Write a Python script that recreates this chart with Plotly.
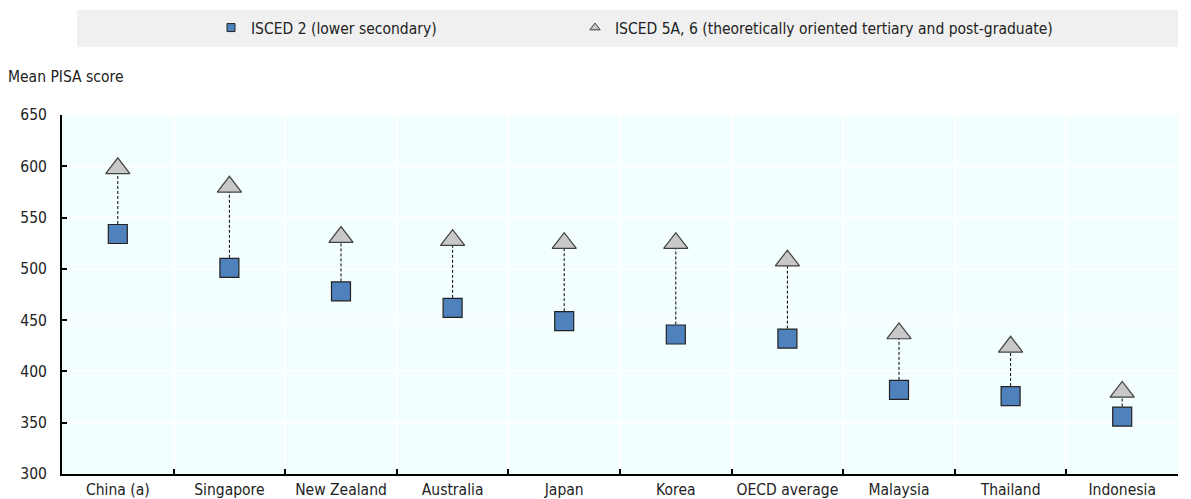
import plotly.graph_objects as go

countries = ["China (a)", "Singapore", "New Zealand", "Australia", "Japan",
             "Korea", "OECD average", "Malaysia", "Thailand", "Indonesia"]
isced2 = [534, 501, 478, 462, 449, 436, 432, 382, 376, 356]
isced56 = [598, 580, 531, 528, 525, 525, 508, 437, 424, 380]

name2 = "ISCED 2 (lower secondary)"
name56 = "ISCED 5A, 6 (theoretically oriented tertiary and post-graduate)"

FONT = "Liberation Sans Narrow, Arial Narrow, DejaVu Sans Condensed, Liberation Sans, Arial, sans-serif"
FS = 15.5
TXT = "#222222"

# connector lines
lx, ly = [], []
for c, a, b in zip(countries, isced2, isced56):
    lx += [c, c, None]
    ly += [a, b, None]

fig = go.Figure()
fig.add_trace(go.Scatter(x=lx, y=ly, mode="lines", showlegend=False, hoverinfo="skip",
                         line=dict(color="#000000", width=1, dash="3px,2px")))
fig.add_trace(go.Scatter(x=countries, y=isced56, mode="markers", name=name56, showlegend=False,
                         marker=dict(symbol="triangle-up", size=21, color="#C8C8C8",
                                     line=dict(color="#404040", width=1.2))))
fig.add_trace(go.Scatter(x=countries, y=isced2, mode="markers", name=name2, showlegend=False,
                         marker=dict(symbol="square", size=19, color="#4F81BD",
                                     line=dict(color="#222222", width=1.2))))
# legend entries
fig.add_trace(go.Scatter(x=[None], y=[None], mode="markers", name=name2, legend="legend",
                         marker=dict(symbol="square", size=8, color="#4F81BD",
                                     line=dict(color="#222222", width=1))))
fig.add_trace(go.Scatter(x=[None], y=[None], mode="markers", name=name56, legend="legend2",
                         marker=dict(symbol="triangle-up", size=9, color="#C8C8C8",
                                     line=dict(color="#404040", width=1))))

L, R, T, B = 62, 13, 115, 25
W, H = 1191, 499
pw = W - L - R
ph = H - T - B

def px2x(px):
    return (px - L) / pw

def py2y(py):
    return (H - B - py) / ph

fig.add_shape(type="rect", xref="paper", yref="paper",
              x0=px2x(77), x1=px2x(1178), y0=py2y(47), y1=py2y(10),
              fillcolor="#F0F0F0", line=dict(width=0), layer="below")

fig.add_annotation(text="Mean PISA score", xref="paper", yref="paper",
                   x=px2x(6), y=py2y(77), xanchor="left", yanchor="middle",
                   showarrow=False, font=dict(size=FS, color=TXT, family=FONT))

leg_common = dict(orientation="h", yanchor="middle", xanchor="left",
                  bgcolor="rgba(0,0,0,0)", font=dict(size=FS, color=TXT, family=FONT))

fig.update_layout(
    width=W, height=H,
    margin=dict(l=L, r=R, t=T, b=B, autoexpand=False),
    paper_bgcolor="#FFFFFF",
    plot_bgcolor="#F3FEFF",
    font=dict(family=FONT, size=FS, color=TXT),
    legend=dict(x=px2x(211), y=py2y(28), **leg_common),
    legend2=dict(x=px2x(575), y=py2y(28), **leg_common),
    xaxis=dict(type="category", range=[-0.5, 9.5], tickson="boundaries",
               ticks="inside", ticklen=5, tickcolor="#000000", tickwidth=1.5,
               showgrid=True, gridcolor="#FFFFFF", gridwidth=1.5,
               showline=True, linecolor="#000000", linewidth=2,
               tickfont=dict(size=FS, color=TXT), fixedrange=True),
    yaxis=dict(range=[300, 650], dtick=50, tick0=300,
               ticks="inside", ticklen=5, tickcolor="#000000", tickwidth=1.5,
               showgrid=True, gridcolor="#FFFFFF", gridwidth=1.5,
               showline=True, linecolor="#000000", linewidth=2,
               ticklabelstandoff=10,
               zeroline=False, tickfont=dict(size=FS, color=TXT), fixedrange=True),
)

fig.write_html("out.html", config={"displayModeBar": False},
               post_script="document.body.style.margin='0';document.body.style.overflow='hidden';")
